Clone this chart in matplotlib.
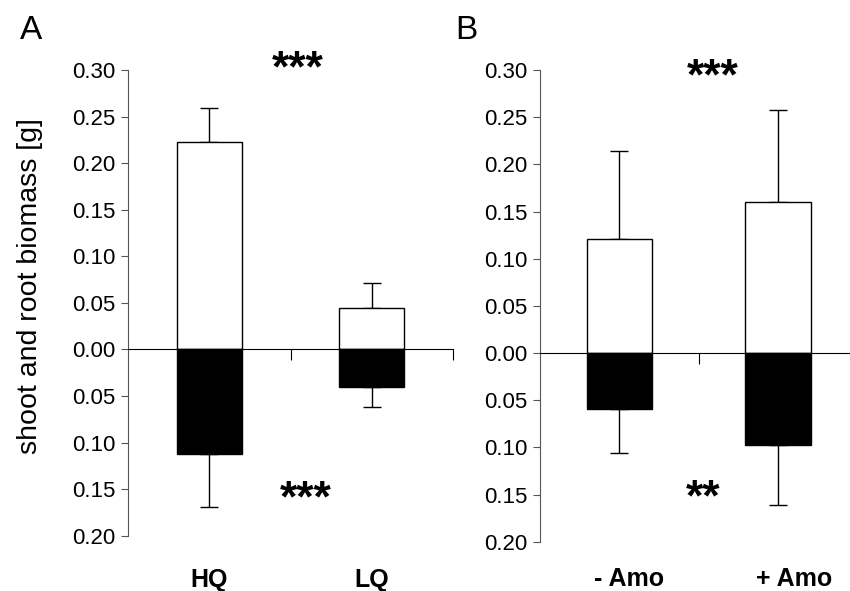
import matplotlib

matplotlib.use("Agg")
import matplotlib.pyplot as plt
import numpy as np

plt.rcParams["font.family"] = ["Liberation Sans", "DejaVu Sans"]

# values (roots drawn downward)
groups_a = ["HQ", "LQ"]
shoot_a = [0.223, 0.045]
shoot_err_a = [0.036, 0.026]
root_a = [0.112, 0.040]
root_err_a = [0.057, 0.022]

groups_b = ["- Amo", "+ Amo"]
shoot_b = [0.121, 0.160]
shoot_err_b = [0.093, 0.098]
root_b = [0.059, 0.098]
root_err_b = [0.047, 0.063]

yticks = [-0.20, -0.15, -0.10, -0.05, 0.00, 0.05, 0.10, 0.15, 0.20, 0.25, 0.30]

W, H = 850, 591
fig = plt.figure(figsize=(W / 100, H / 100), dpi=100)


def px_axes(left, top, right, bottom):
    return fig.add_axes([left / W, 1 - bottom / H, (right - left) / W, (bottom - top) / H])


def panel(ax, groups, shoot, shoot_err, root, root_err, width, xmax, lab_y, lab_dx, stars):
    x = np.arange(len(groups))
    root_neg = -np.asarray(root)
    ax.bar(x, shoot, width, color="white", edgecolor="black", lw=1.0, zorder=2)
    ax.bar(x, root_neg, width, color="black", edgecolor="black", lw=1.0, zorder=2)
    zeros = np.zeros(len(groups))
    ax.errorbar(x, shoot, yerr=[zeros, shoot_err], fmt="none", ecolor="black",
                elinewidth=1.0, capsize=6.5, capthick=1.0, zorder=1)
    ax.errorbar(x, root_neg, yerr=[root_err, zeros], fmt="none", ecolor="black",
                elinewidth=1.0, capsize=6.5, capthick=1.0, zorder=1)
    ax.set_xlim(-0.5, xmax)
    ax.set_ylim(-0.20, 0.30)
    for s in ("top", "right"):
        ax.spines[s].set_visible(False)
    ax.spines["left"].set_color("#555555")
    ax.spines["bottom"].set_position(("data", 0))
    ax.spines["bottom"].set_color("black")
    ax.spines["bottom"].set_zorder(3)
    ax.set_yticks(yticks)
    ax.set_yticklabels([f"{abs(v):.2f}" for v in yticks], fontsize=16)
    ax.tick_params(axis="y", direction="out", length=5, color="#555555", pad=4)
    bounds = [b for b in np.arange(len(groups)) + 0.5 if b <= xmax]
    ax.set_xticks(bounds)
    ax.set_xticklabels([])
    ax.tick_params(axis="x", direction="out", length=8, color="black")
    for xi, dx, g in zip(x, lab_dx, groups):
        ax.text(xi + dx, lab_y, g, ha="center", va="center", fontsize=18,
                fontweight="bold", clip_on=False)
    for sx, sy, s in stars:
        ax.text(sx, sy, s, ha="center", va="center", fontsize=32,
                fontweight="bold", clip_on=False)


ax_a = px_axes(128, 70, 453, 535.7)
panel(ax_a, groups_a, shoot_a, shoot_err_a, root_a, root_err_a, 0.4, 1.5, -0.248,
      [0.0, 0.0], [(0.546, 0.300, "***"), (0.595, -0.162, "***")])

ax_b = px_axes(540, 70, 850, 541.7)
panel(ax_b, groups_b, shoot_b, shoot_err_b, root_b, root_err_b, 0.415, 1.45, -0.240,
      [0.06, 0.10], [(0.588, 0.292, "***"), (0.525, -0.155, "**")])

fig.text(20 / W, 1 - 39 / H, "A", fontsize=24, ha="left", va="baseline")
fig.text(455 / W, 1 - 39 / H, "B", fontsize=24, ha="left", va="baseline")
fig.text(30 / W, 1 - 286 / H, "shoot and root biomass [g]", rotation=90,
         ha="center", va="center", fontsize=20.5)

fig.savefig("out.png", dpi=100)
